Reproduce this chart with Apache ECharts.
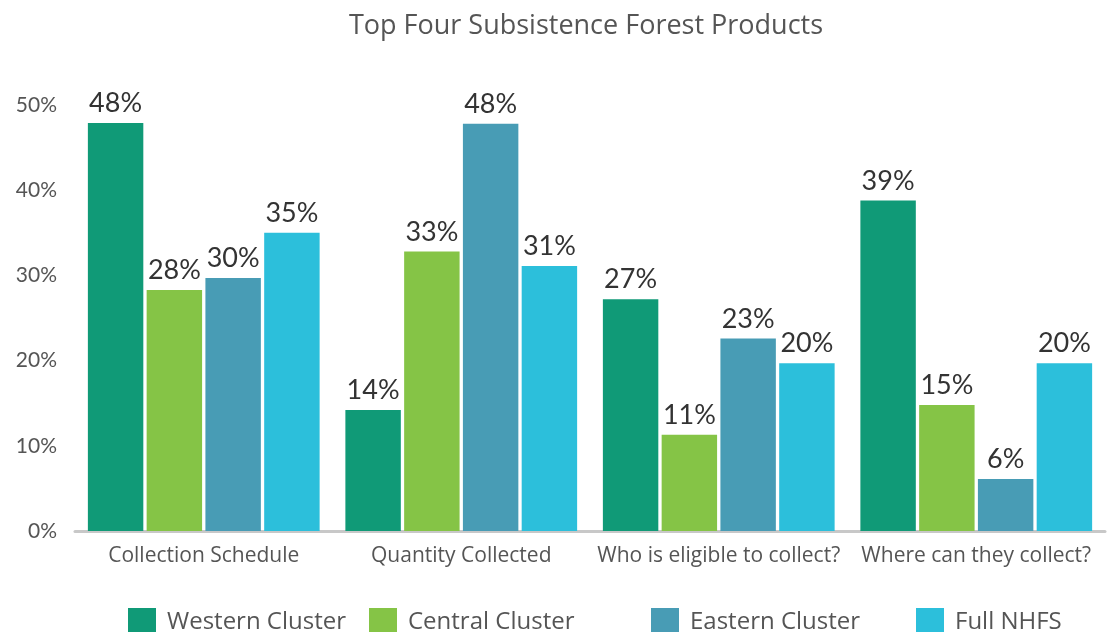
<!DOCTYPE html>
<html>
<head>
<meta charset="utf-8">
<script src="https://cdn.jsdelivr.net/npm/echarts@6/dist/echarts.min.js"></script>
<style>
  html, body { margin: 0; padding: 0; background: #fff; }
  #chart { width: 1110px; height: 632px; }
</style>
</head>
<body>
<div id="chart"></div>
<script>
var categories = ["Collection Schedule", "Quantity Collected", "Who is eligible to collect?", "Where can they collect?"];
var seriesNames = ["Western Cluster", "Central Cluster", "Eastern Cluster", "Full NHFS"];
var western = [47.9, 14.2, 27.2, 38.8];
var central = [28.3, 32.8, 11.3, 14.8];
var eastern = [29.7, 47.8, 22.6, 6.1];
var fullNhfs = [35.0, 31.1, 19.7, 19.7];
var colors = ["#109a77", "#85c446", "#489cb5", "#2cbfdb"];
var legendLefts = [128, 369, 651, 916];

var myChart = echarts.init(document.getElementById("chart"));

var seriesData = [western, central, eastern, fullNhfs];
var series = [];
var legends = [];
for (var i = 0; i < seriesData.length; i++) {
    series.push({
        name: seriesNames[i],
        type: "bar",
        data: seriesData[i],
        barGap: "6%",
        barCategoryGap: "10%",
        itemStyle: { color: colors[i] },
        label: {
            show: true,
            position: "top",
            distance: 6,
            color: "#333",
            fontSize: 27,
            fontFamily: "Lato",
            formatter: function (p) { return Math.round(p.value) + "%"; }
        }
    });
    // one legend per item so each sits where the original puts it
    legends.push({
        data: [seriesNames[i]],
        bottom: -4,
        left: legendLefts[i],
        padding: 0,
        itemWidth: 28,
        itemHeight: 28,
        icon: "rect",
        selectedMode: false,
        textStyle: { color: "#555", fontSize: 24, fontFamily: "Open Sans", padding: [0, 0, 0, 6] }
    });
}

var option = {
    animation: false,
    title: {
        text: "Top Four Subsistence Forest Products",
        left: 581,
        textAlign: "center",
        top: 8,
        textStyle: { color: "#555", fontSize: 27, fontWeight: "normal", fontFamily: "Open Sans" }
    },
    legend: legends,
    grid: { left: 75, right: 5, top: 105, bottom: 101 },
    xAxis: {
        type: "category",
        data: categories,
        axisLine: { lineStyle: { color: "#c8c8c8", width: 3 } },
        axisTick: { show: false },
        axisLabel: { interval: 0, color: "#555", fontSize: 21, fontFamily: "Open Sans", margin: 15 }
    },
    yAxis: {
        type: "value",
        min: 0,
        max: 50,
        interval: 10,
        splitLine: { show: false },
        axisLine: { show: false },
        axisTick: { show: false },
        axisLabel: {
            color: "#555",
            fontSize: 21,
            fontFamily: "Lato",
            margin: 18,
            formatter: "{value}%"
        }
    },
    series: series
};

myChart.setOption(option);
</script>
</body>
</html>
